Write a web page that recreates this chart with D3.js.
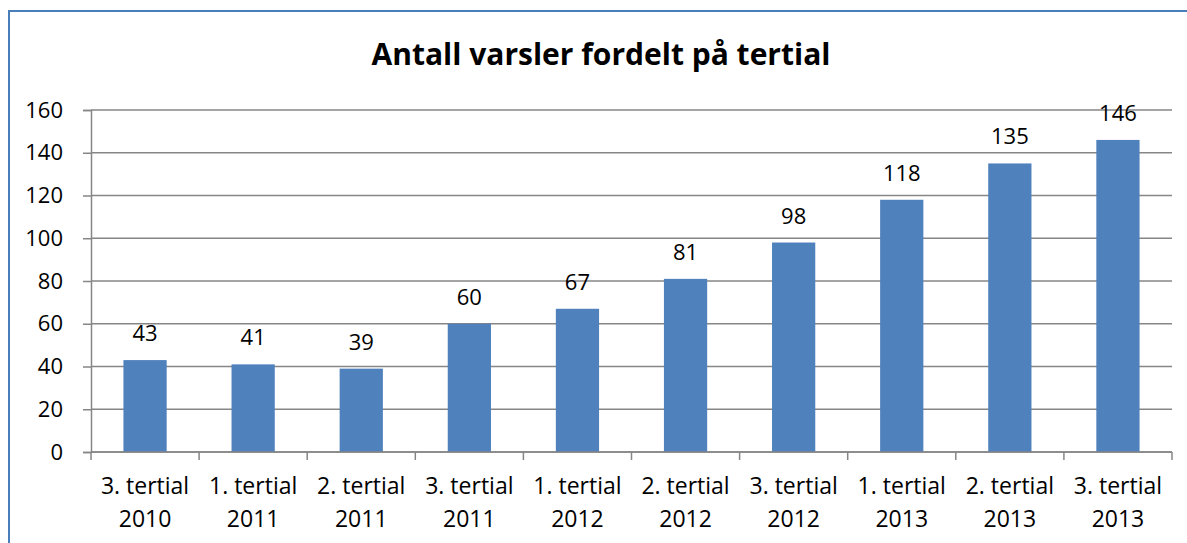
<!DOCTYPE html>
<html>
<head>
<meta charset="utf-8">
<script src="https://cdn.jsdelivr.net/npm/d3@7"></script>
<style>
  body { margin: 0; background: #fff; }
  svg text { font-family: "Open Sans", sans-serif; fill: #000; }
</style>
</head>
<body>
<div id="chart"></div>
<script>
var periods = ['3. tertial', '1. tertial', '2. tertial', '3. tertial', '1. tertial',
               '2. tertial', '3. tertial', '1. tertial', '2. tertial', '3. tertial'];
var years = ['2010', '2011', '2011', '2011', '2012', '2012', '2012', '2013', '2013', '2013'];
var values = [43, 41, 39, 60, 67, 81, 98, 118, 135, 146];
var yTicks = [0, 20, 40, 60, 80, 100, 120, 140, 160];

var chartWidth = 1187;
var chartHeight = 543;
var plotLeft = 91, plotRight = 1172, plotTop = 110, plotBottom = 452;

var svg = d3.select('#chart')
    .append('svg')
    .attr('width', chartWidth)
    .attr('height', chartHeight);

// chart border (runs off the right and bottom edge)
svg.append('rect')
    .attr('x', 9)
    .attr('y', 11)
    .attr('width', chartWidth + 20)
    .attr('height', chartHeight + 20)
    .attr('fill', 'none')
    .attr('stroke', '#4a7ebb')
    .attr('stroke-width', 2);

svg.append('text')
    .text('Antall varsler fordelt på tertial')
    .attr('x', 601)
    .attr('y', 65)
    .attr('text-anchor', 'middle')
    .attr('font-size', 30)
    .attr('font-weight', 'bold');

var idx = d3.range(values.length);
var scaleX = d3.scaleBand()
    .domain(idx)
    .range([plotLeft, plotRight])
    .paddingInner(0.6)
    .paddingOuter(0.3);

var scaleY = d3.scaleLinear()
    .domain([0, 160])
    .range([plotBottom, plotTop]);

// gridlines
svg.selectAll('line.grid')
    .data(yTicks)
    .enter()
    .append('line')
    .attr('class', 'grid')
    .attr('x1', plotLeft)
    .attr('x2', plotRight)
    .attr('y1', function(d) { return scaleY(d); })
    .attr('y2', function(d) { return scaleY(d); })
    .attr('stroke', '#868686')
    .attr('stroke-width', 1.5);

// y axis
var yAxis = svg.append('g')
    .attr('transform', 'translate(' + plotLeft + ',0)')
    .call(d3.axisLeft(scaleY).tickValues(yTicks).tickSize(8).tickPadding(20));
yAxis.selectAll('path, line').attr('stroke', '#868686').attr('stroke-width', 1.5);
yAxis.selectAll('text').attr('font-size', 22).attr('fill', '#000')
    .style('font-family', '"Open Sans", sans-serif');

// bars
svg.selectAll('rect.bar')
    .data(values)
    .enter()
    .append('rect')
    .attr('class', 'bar')
    .attr('x', function(d, i) { return scaleX(i); })
    .attr('y', function(d) { return scaleY(d); })
    .attr('width', scaleX.bandwidth())
    .attr('height', function(d) { return plotBottom - scaleY(d); })
    .attr('fill', '#4f81bd');

// x axis line and category ticks
svg.append('line')
    .attr('x1', plotLeft).attr('x2', plotRight)
    .attr('y1', plotBottom).attr('y2', plotBottom)
    .attr('stroke', '#868686').attr('stroke-width', 1.5);

var step = scaleX.step();
svg.selectAll('line.xtick')
    .data(d3.range(values.length + 1))
    .enter()
    .append('line')
    .attr('class', 'xtick')
    .attr('x1', function(d) { return plotLeft + d * step; })
    .attr('x2', function(d) { return plotLeft + d * step; })
    .attr('y1', plotBottom)
    .attr('y2', plotBottom + 8)
    .attr('stroke', '#868686')
    .attr('stroke-width', 1.5);

// category labels
var cat = svg.selectAll('text.cat')
    .data(idx)
    .enter()
    .append('text')
    .attr('class', 'cat')
    .attr('text-anchor', 'middle')
    .attr('font-size', 23);
cat.append('tspan')
    .attr('x', function(i) { return scaleX(i) + scaleX.bandwidth() / 2; })
    .attr('y', 494)
    .text(function(i) { return periods[i]; });
cat.append('tspan')
    .attr('x', function(i) { return scaleX(i) + scaleX.bandwidth() / 2; })
    .attr('y', 527)
    .text(function(i) { return years[i]; });

// value labels
svg.selectAll('text.val')
    .data(values)
    .enter()
    .append('text')
    .attr('class', 'val')
    .text(function(d) { return d; })
    .attr('x', function(d, i) { return scaleX(i) + scaleX.bandwidth() / 2; })
    .attr('y', function(d) { return scaleY(d) - 19; })
    .attr('text-anchor', 'middle')
    .attr('font-size', 22);
</script>
</body>
</html>
